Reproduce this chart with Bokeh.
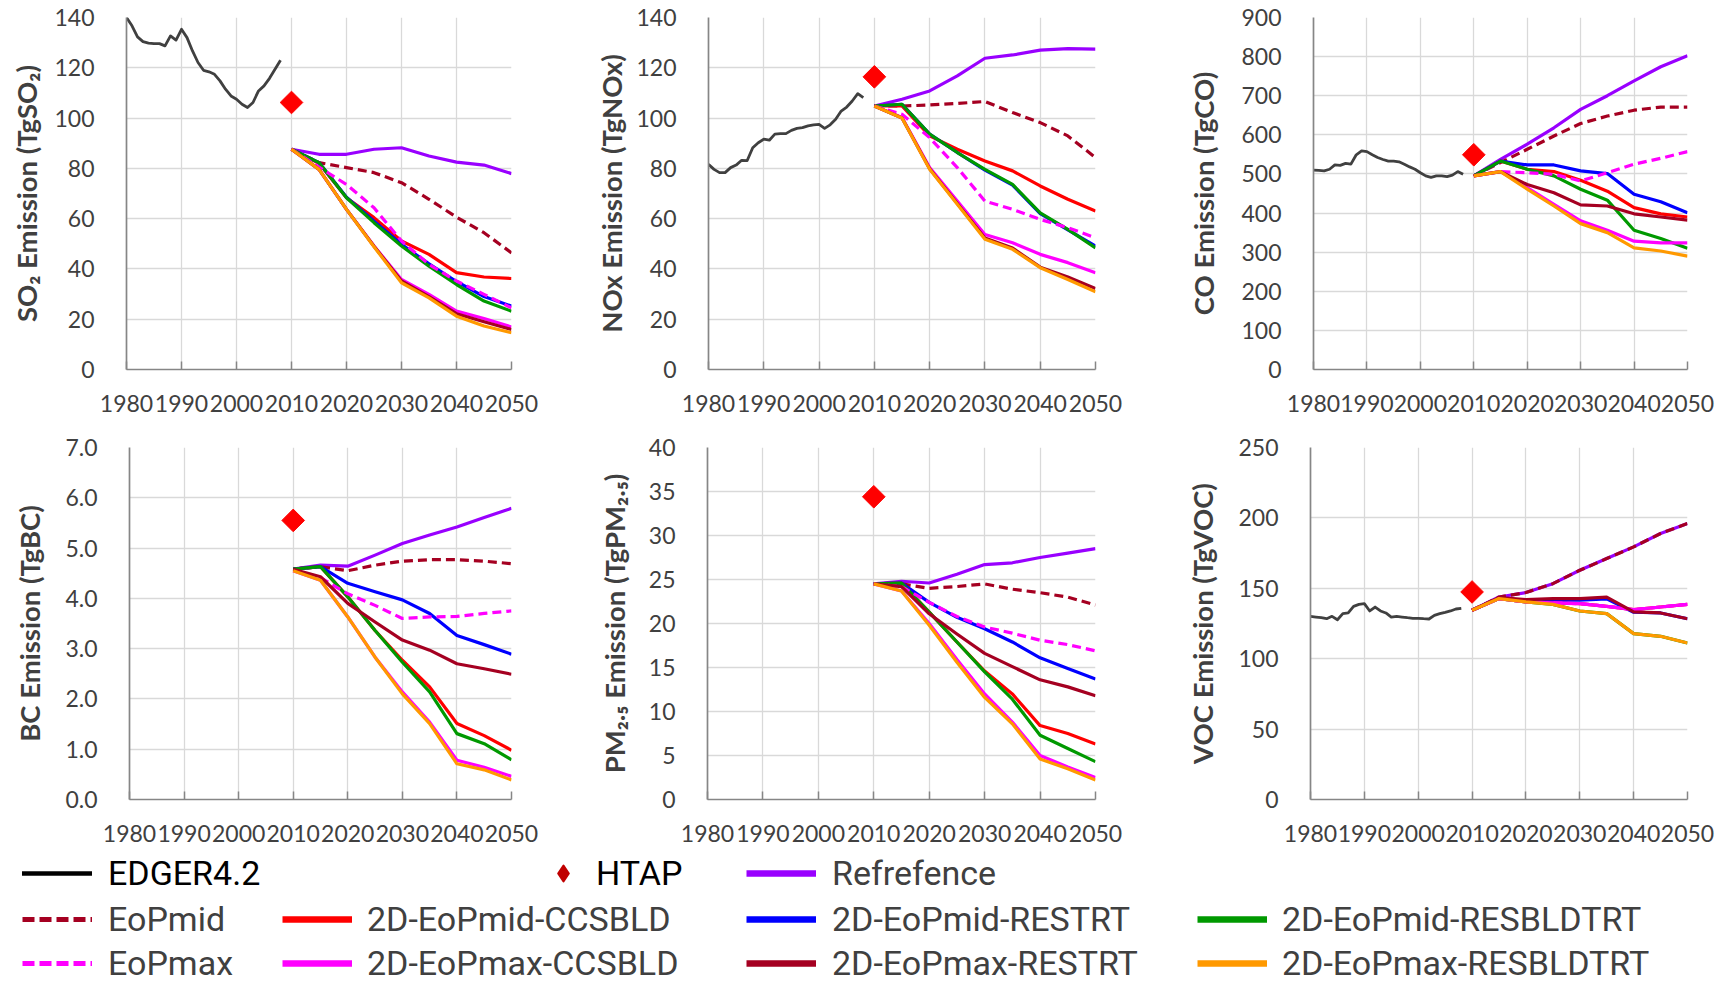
import math
from bokeh.plotting import figure
from bokeh.models import Range1d, FixedTicker, NumeralTickFormatter, Legend, LegendItem
from bokeh.layouts import column, row
from bokeh.embed import file_html
from bokeh.resources import INLINE

# ---------------- data ----------------
YEARS_HIST = list(range(1980, 2009))
YEARS_PROJ = [2010, 2015, 2020, 2025, 2030, 2035, 2040, 2045, 2050]
HTAP_YEAR = 2010
X_TICKS = [1980, 1990, 2000, 2010, 2020, 2030, 2040, 2050]

# SO2 (TgSO2)
SO2_EDGER = [140.0, 136.7, 132.3, 130.4, 129.8, 129.6, 129.6, 128.7, 132.7, 131.0,
             135.3, 132.0, 126.7, 122.1, 119.0, 118.4, 117.4, 114.8, 111.5, 108.8,
             107.5, 105.5, 104.2, 106.2, 110.8, 112.8, 115.8, 119.4, 123.0]
SO2_HTAP = 106.2
SO2_REF = [87.6, 85.6, 85.6, 87.6, 88.2, 84.9, 82.5, 81.3, 77.9]
SO2_MID = [87.6, 82.3, 80.3, 78.3, 74.3, 67.7, 60.6, 54.4, 46.4]
SO2_MAX = [87.6, 80.5, 73.6, 64.3, 51.1, 41.8, 35.2, 29.9, 24.5]
SO2_MID_CCS = [87.6, 82.0, 68.3, 60.4, 51.1, 45.8, 38.5, 36.8, 36.2]
SO2_MID_RES = [87.6, 82.3, 68.5, 59.0, 49.8, 42.0, 35.0, 29.0, 25.2]
SO2_MID_RBT = [87.6, 82.3, 68.3, 58.4, 49.1, 41.1, 33.8, 27.2, 23.2]
SO2_MAX_CCS = [87.6, 79.6, 63.7, 49.1, 35.8, 29.9, 23.2, 20.3, 16.9]
SO2_MAX_RES = [87.6, 79.6, 63.7, 49.0, 35.2, 29.0, 22.2, 19.0, 15.9]
SO2_MAX_RBT = [87.6, 79.6, 63.7, 48.8, 34.5, 28.5, 21.2, 17.3, 14.6]

# NOx (TgNOx)
NOX_EDGER = [81.6, 79.6, 78.3, 78.3, 80.3, 81.3, 83.2, 83.1, 88.2, 90.2,
             91.6, 91.2, 93.6, 93.8, 93.8, 95.1, 95.9, 96.2, 96.9, 97.3,
             97.5, 95.9, 97.3, 99.5, 102.8, 104.4, 106.8, 109.7, 108.1]
NOX_HTAP = 116.4
NOX_REF = [104.8, 107.5, 110.8, 116.8, 123.8, 125.1, 127.0, 127.6, 127.4]
NOX_MID = [104.8, 104.8, 105.2, 105.8, 106.6, 102.2, 98.2, 92.9, 84.3]
NOX_MAX = [104.8, 101.5, 92.2, 80.3, 67.0, 63.7, 59.7, 56.4, 52.4]
NOX_MID_CCS = [104.8, 104.8, 92.9, 87.6, 82.9, 79.0, 73.0, 67.7, 63.0]
NOX_MID_RES = [104.8, 105.5, 93.6, 86.3, 79.3, 73.3, 62.0, 55.5, 49.1]
NOX_MID_RBT = [104.8, 105.5, 93.6, 86.3, 79.6, 73.6, 62.3, 55.7, 48.4]
NOX_MAX_CCS = [104.8, 100.2, 80.3, 67.0, 53.7, 50.4, 45.8, 42.5, 38.5]
NOX_MAX_RES = [104.8, 100.0, 79.8, 66.0, 52.3, 48.3, 40.7, 36.8, 32.2]
NOX_MAX_RBT = [104.8, 100.0, 79.6, 65.7, 51.8, 47.8, 40.5, 35.8, 30.9]

# CO (TgCO)
CO_EDGER = [510, 509, 508, 512, 523, 522, 527, 525, 549, 559,
            557, 549, 542, 537, 533, 533, 531, 525, 518, 512,
            503, 495, 491, 495, 495, 493, 497, 506, 499]
CO_HTAP = 549
CO_REF = [495, 537, 576, 618, 665, 700, 738, 774, 802]
CO_MID = [495, 529, 563, 597, 629, 648, 663, 671, 671]
CO_MAX = [495, 506, 503, 499, 482, 503, 525, 540, 557]
CO_MID_CCS = [495, 533, 512, 506, 484, 456, 414, 398, 390]
CO_MID_RES = [495, 533, 523, 523, 508, 501, 448, 429, 401]
CO_MID_RBT = [495, 533, 512, 495, 461, 433, 356, 335, 310]
CO_MAX_CCS = [495, 506, 465, 422, 380, 356, 328, 324, 324]
CO_MAX_RES = [495, 506, 473, 452, 421, 418, 398, 390, 382]
CO_MAX_RBT = [495, 506, 461, 418, 373, 350, 311, 303, 290]

# BC (TgBC)
BC_HTAP = 5.55
BC_REF = [4.58, 4.66, 4.64, 4.86, 5.09, 5.26, 5.42, 5.61, 5.79]
BC_MID = [4.58, 4.63, 4.55, 4.66, 4.74, 4.77, 4.77, 4.74, 4.69]
BC_MAX = [4.55, 4.41, 4.09, 3.86, 3.60, 3.63, 3.64, 3.70, 3.75]
BC_MID_CCS = [4.58, 4.63, 4.03, 3.36, 2.77, 2.24, 1.51, 1.27, 0.98]
BC_MID_RES = [4.58, 4.63, 4.30, 4.13, 3.97, 3.70, 3.26, 3.08, 2.89]
BC_MID_RBT = [4.58, 4.63, 4.03, 3.36, 2.73, 2.14, 1.31, 1.11, 0.79]
BC_MAX_CCS = [4.55, 4.36, 3.63, 2.83, 2.14, 1.54, 0.78, 0.64, 0.46]
BC_MAX_RES = [4.58, 4.43, 3.90, 3.53, 3.17, 2.97, 2.70, 2.60, 2.49]
BC_MAX_RBT = [4.55, 4.36, 3.63, 2.83, 2.10, 1.51, 0.71, 0.59, 0.39]

# PM2.5 (TgPM2.5)
PM_HTAP = 34.4
PM_REF = [24.5, 24.8, 24.6, 25.6, 26.7, 26.9, 27.5, 28.0, 28.5]
PM_MID = [24.5, 24.5, 24.0, 24.2, 24.5, 23.9, 23.5, 23.0, 22.1]
PM_MAX = [24.5, 24.2, 22.4, 20.8, 19.6, 18.9, 18.1, 17.6, 16.9]
PM_MID_CCS = [24.5, 24.6, 21.3, 17.9, 14.6, 12.0, 8.4, 7.5, 6.3]
PM_MID_RES = [24.5, 24.6, 22.4, 20.7, 19.4, 17.9, 16.1, 14.9, 13.7]
PM_MID_RBT = [24.5, 24.6, 21.3, 17.9, 14.5, 11.4, 7.3, 5.8, 4.3]
PM_MAX_CCS = [24.5, 23.7, 20.0, 15.9, 12.0, 8.8, 5.0, 3.7, 2.5]
PM_MAX_RES = [24.5, 24.2, 21.1, 18.8, 16.6, 15.1, 13.6, 12.8, 11.8]
PM_MAX_RBT = [24.5, 23.7, 19.8, 15.6, 11.6, 8.6, 4.6, 3.5, 2.2]

# VOC (TgVOC)
VOC_EDGER = [130.1, 129.6, 129.1, 128.4, 130.1, 127.7, 132.0, 132.5, 137.2, 138.6,
             139.1, 133.9, 136.7, 133.9, 132.5, 129.6, 130.1, 129.6, 129.1, 128.7,
             128.7, 128.4, 128.2, 130.8, 132.0, 132.9, 133.9, 135.3, 135.8]
VOC_HTAP = 147.4
VOC_REF = [134.4, 143.8, 147.0, 153.3, 162.8, 171.1, 179.4, 188.9, 196.0]
VOC_MID = [134.4, 143.8, 147.0, 153.3, 162.8, 171.1, 179.4, 188.9, 196.0]
VOC_MAX = [134.4, 142.7, 140.3, 139.6, 139.1, 137.2, 134.8, 136.7, 138.6]
VOC_MID_CCS = [134.4, 142.7, 140.3, 139.6, 139.1, 137.2, 134.8, 136.7, 138.6]
VOC_MID_RES = [134.4, 143.0, 141.5, 141.5, 141.5, 142.5, 133.0, 132.5, 128.4]
VOC_MID_RBT = [134.4, 142.7, 140.3, 138.6, 133.9, 132.0, 117.8, 115.9, 111.1]
VOC_MAX_CCS = [134.4, 142.7, 140.3, 139.6, 139.1, 137.2, 134.8, 136.7, 138.6]
VOC_MAX_RES = [134.4, 143.4, 141.9, 142.7, 142.7, 143.8, 133.2, 132.5, 128.4]
VOC_MAX_RBT = [134.4, 142.7, 140.3, 138.6, 133.9, 132.0, 117.8, 115.9, 111.1]

SERIES_NAMES = ["Refrefence", "EoPmid", "2D-EoPmid-CCSBLD", "2D-EoPmid-RESTRT",
                "2D-EoPmid-RESBLDTRT", "EoPmax", "2D-EoPmax-CCSBLD",
                "2D-EoPmax-RESTRT", "2D-EoPmax-RESBLDTRT"]

# ---------------- styles ----------------
STYLE = {
    "Refrefence": ("#9900FF", "solid"),
    "EoPmid": ("#A50021", "9 5"),
    "2D-EoPmid-CCSBLD": ("#FF0000", "solid"),
    "2D-EoPmid-RESTRT": ("#0000FF", "solid"),
    "2D-EoPmid-RESBLDTRT": ("#009900", "solid"),
    "EoPmax": ("#FF00FF", "9 5"),
    "2D-EoPmax-CCSBLD": ("#FF00FF", "solid"),
    "2D-EoPmax-RESTRT": ("#A50021", "solid"),
    "2D-EoPmax-RESBLDTRT": ("#FF9900", "solid"),
}
EDGER_COLOR = "#404040"
AXIS_COLOR = "#868686"
GRID_COLOR = "#d9d9d9"
TEXT_COLOR = "#404040"
TICK_FONT = "Lato"
LEG_FONT = "Roboto"
NAN = float("nan")


def make_panel(ylabel, ymax, ystep, edger, htap, proj, fw, bl, br, bt, label_standoff, fmt=None):
    p = figure(frame_width=fw, frame_height=352,
               min_border_left=bl, min_border_right=br, min_border_top=bt, min_border_bottom=53,
               x_range=Range1d(1980, 2050), y_range=Range1d(0, ymax),
               output_backend="svg", toolbar_location=None, tools="")
    p.outline_line_color = None
    p.background_fill_color = "white"
    p.border_fill_color = "white"

    nt = int(round(ymax / ystep))
    p.xaxis.ticker = FixedTicker(ticks=X_TICKS)
    p.yaxis.ticker = FixedTicker(ticks=[i * ystep for i in range(nt + 1)])
    if fmt:
        p.yaxis.formatter = NumeralTickFormatter(format=fmt)

    for ax in (p.xaxis, p.yaxis):
        ax.axis_line_color = AXIS_COLOR
        ax.axis_line_width = 1.7
        ax.major_label_text_font = TICK_FONT
        ax.major_label_text_font_size = "23px"
        ax.major_label_text_color = TEXT_COLOR
        ax.minor_tick_line_color = None
    p.xaxis.major_tick_line_color = AXIS_COLOR
    p.xaxis.major_tick_line_width = 1.5
    p.xaxis.major_tick_in = 8
    p.xaxis.major_tick_out = 0
    p.xaxis.major_label_standoff = 25
    p.yaxis.major_tick_line_color = None
    p.yaxis.major_tick_in = 0
    p.yaxis.major_tick_out = 0
    p.yaxis.major_label_standoff = 32

    p.yaxis.axis_label = ylabel
    p.yaxis.axis_label_text_font = TICK_FONT
    p.yaxis.axis_label_text_font_style = "bold"
    p.yaxis.axis_label_text_font_size = "27.5px"
    p.yaxis.axis_label_text_color = TEXT_COLOR
    p.yaxis.axis_label_standoff = label_standoff

    p.xgrid.grid_line_color = GRID_COLOR
    p.ygrid.grid_line_color = GRID_COLOR
    p.xgrid.grid_line_width = 1.3
    p.ygrid.grid_line_width = 1.3

    if edger is not None:
        p.line(YEARS_HIST, edger, line_color=EDGER_COLOR, line_width=2.8, line_join="round")
    p.scatter([HTAP_YEAR], [htap], marker="square", angle=math.pi / 4, size=16,
              fill_color="#FF0000", line_color="#FF0000")
    for name, vals in zip(SERIES_NAMES, proj):
        color, dash = STYLE[name]
        p.line(YEARS_PROJ, vals, line_color=color, line_width=3.2, line_dash=dash,
               line_join="round")
    return p


# page origin is (0, 0); panel frames placed to match the reference
p1 = make_panel("SO₂ Emission (TgSO₂)", 140, 20, SO2_EDGER, SO2_HTAP,
                [SO2_REF, SO2_MID, SO2_MID_CCS, SO2_MID_RES, SO2_MID_RBT,
                 SO2_MAX, SO2_MAX_CCS, SO2_MAX_RES, SO2_MAX_RBT],
                385, 126, 69, 17, 8)
p2 = make_panel("NOx Emission (TgNOx)", 140, 20, NOX_EDGER, NOX_HTAP,
                [NOX_REF, NOX_MID, NOX_MID_CCS, NOX_MID_RES, NOX_MID_RBT,
                 NOX_MAX, NOX_MAX_CCS, NOX_MAX_RES, NOX_MAX_RBT],
                387, 128, 65, 17, 5)
p3 = make_panel("CO Emission (TgCO)", 900, 100, CO_EDGER, CO_HTAP,
                [CO_REF, CO_MID, CO_MID_CCS, CO_MID_RES, CO_MID_RBT,
                 CO_MAX, CO_MAX_CCS, CO_MAX_RES, CO_MAX_RBT],
                374, 153, 30, 17, 18)
p4 = make_panel("BC Emission (TgBC)", 7, 1, None, BC_HTAP,
                [BC_REF, BC_MID, BC_MID_CCS, BC_MID_RES, BC_MID_RBT,
                 BC_MAX, BC_MAX_CCS, BC_MAX_RES, BC_MAX_RBT],
                382, 129, 69, 25, 16, fmt="0.0")
p5 = make_panel("PM₂.₅ Emission (TgPM₂.₅)", 40, 5, None, PM_HTAP,
                [PM_REF, PM_MID, PM_MID_CCS, PM_MID_RES, PM_MID_RBT,
                 PM_MAX, PM_MAX_CCS, PM_MAX_RES, PM_MAX_RBT],
                388, 127, 65, 25, 15)
p6 = make_panel("VOC Emission (TgVOC)", 250, 50, VOC_EDGER, VOC_HTAP,
                [VOC_REF, VOC_MID, VOC_MID_CCS, VOC_MID_RES, VOC_MID_RBT,
                 VOC_MAX, VOC_MAX_CCS, VOC_MAX_RES, VOC_MAX_RBT],
                377, 150, 30, 25, 16)

# ---------------- legend strip ----------------
LEG_TOP = 852
LEG_H = 132
leg = figure(width=1717, height=LEG_H, min_border=0, x_axis_location=None, y_axis_location=None,
             x_range=Range1d(0, 1), y_range=Range1d(0, 1),
             output_backend="svg", toolbar_location=None, tools="")
leg.grid.visible = False
leg.outline_line_color = None

ROW_C = [873.0, 918.5, 963.0]
ITEM_H = 40


def add_item(renderer, label, glyph_x, rowi, glyph_w, standoff, color):
    bottom = ROW_C[rowi] + ITEM_H / 2
    lg = Legend(items=[LegendItem(label=label, renderers=[renderer])],
                location=(glyph_x, (LEG_TOP + LEG_H) - bottom),
                orientation="vertical", glyph_width=int(glyph_w), glyph_height=ITEM_H,
                label_height=ITEM_H, label_standoff=int(round(standoff)), padding=0, margin=0,
                spacing=0, border_line_color=None, background_fill_alpha=0,
                label_text_font=LEG_FONT, label_text_font_size="34px",
                label_text_color=color)
    leg.add_layout(lg)


r_edger = leg.line(x=[NAN], y=[NAN], line_color="#000000", line_width=4.5, line_cap="round")
add_item(r_edger, "EDGER4.2", 22, 0, 70, 16, "#000000")
r_htap = leg.scatter(x=[NAN], y=[NAN], marker="diamond", size=16, fill_color="#C00000",
                     line_color="#C00000", line_width=2, line_join="round")
add_item(r_htap, "HTAP", 543, 0, 40, 13, "#000000")

LEG_COLS = {
    "Refrefence": (746, 0, 16),
    "EoPmid": (22, 1, 16),
    "2D-EoPmid-CCSBLD": (282, 1, 15),
    "2D-EoPmid-RESTRT": (746, 1, 16),
    "2D-EoPmid-RESBLDTRT": (1197, 1, 15),
    "EoPmax": (22, 2, 16),
    "2D-EoPmax-CCSBLD": (282, 2, 15),
    "2D-EoPmax-RESTRT": (746, 2, 16),
    "2D-EoPmax-RESBLDTRT": (1197, 2, 15),
}
for name in SERIES_NAMES:
    color, dash = STYLE[name]
    if dash == "solid":
        r = leg.line(x=[NAN], y=[NAN], line_color=color, line_width=6.5)
    else:
        r = leg.line(x=[NAN], y=[NAN], line_color=color, line_width=5, line_dash="12 5")
    gx, ri, so = LEG_COLS[name]
    add_item(r, name, gx, ri, 70, so, TEXT_COLOR)

layout = column(row(p1, p2, p3), row(p4, p5, p6), leg)

with open("out.html", "w") as f:
    f.write(file_html(layout, INLINE))
